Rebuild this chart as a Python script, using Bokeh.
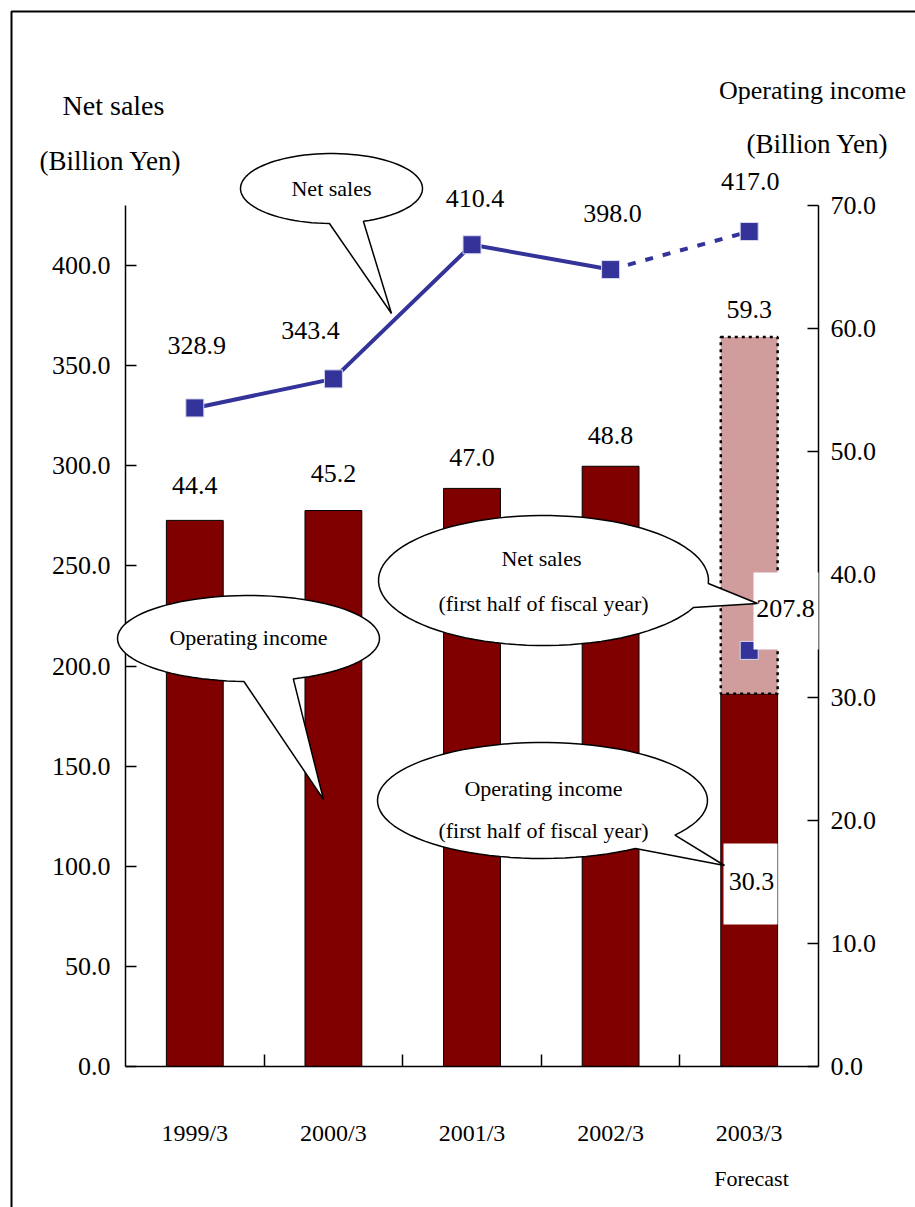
import math

from bokeh.core.properties import value
from bokeh.embed import file_html
from bokeh.models import (BoxAnnotation, ColumnDataSource, FixedTicker, Label,
                          LabelSet, LinearAxis, NumeralTickFormatter, Range1d)
from bokeh.plotting import figure
from bokeh.resources import INLINE

# ---- data -----------------------------------------------------------------
years = ["1999/3", "2000/3", "2001/3", "2002/3", "2003/3"]
net_sales = [328.9, 343.4, 410.4, 398.0, 417.0]          # billion yen, left axis
operating_income = [44.4, 45.2, 47.0, 48.8, 59.3]        # billion yen, right axis
first_half_net_sales = 207.8
first_half_operating_income = 30.3
sales_ticks = [0, 50, 100, 150, 200, 250, 300, 350, 400]
income_ticks = [0, 10, 20, 30, 40, 50, 60, 70]
sales_max, income_max = 430, 70

# ---- layout / styling -------------------------------------------------------
W, H = 915, 1207
AX_L, AX_R, AX_TOP, AX_BOT = 125, 818, 205, 1066   # pixel box of the axes
FONT = "Liberation Serif"
MAROON = "#800000"
ROSE = "#D09C9C"
BLUE = "#333399"

xs = list(range(len(years)))
last = xs[-1]

# The data ranges are stretched so that the plotting frame fills the whole
# page; the axes are pinned at fixed locations inside it.
x_lo, x_hi = -0.5, len(years) - 0.5
px_x = (AX_R - AX_L) / (x_hi - x_lo)
px_s = (AX_BOT - AX_TOP) / sales_max
px_i = (AX_BOT - AX_TOP) / income_max

p = figure(width=W, height=H,
           x_range=Range1d(x_lo - AX_L / px_x, x_hi + (W - AX_R) / px_x),
           y_range=Range1d(-(H - AX_BOT) / px_s, sales_max + AX_TOP / px_s),
           x_axis_type=None, y_axis_type=None,
           min_border=0, min_border_left=0, min_border_right=0,
           min_border_top=0, min_border_bottom=0,
           output_backend="svg", toolbar_location=None)
p.outline_line_color = None
p.background_fill_color = "white"
p.border_fill_color = "white"

p.extra_y_ranges = {"oi": Range1d(-(H - AX_BOT) / px_i, income_max + AX_TOP / px_i),
                    "px": Range1d(H, 0)}
p.extra_x_ranges = {"px": Range1d(0, W)}

# ---- axes -------------------------------------------------------------------
xaxis = LinearAxis(
    fixed_location=0, bounds=(x_lo, x_hi),
    ticker=FixedTicker(ticks=xs, minor_ticks=[i + 0.5 for i in xs[:-1]]),
    major_label_overrides={i: y for i, y in zip(xs, years)},
    major_tick_in=0, major_tick_out=0,
    minor_tick_in=12, minor_tick_out=0,
    minor_tick_line_color="black", minor_tick_line_width=1.5,
    axis_line_color="black", axis_line_width=1.5,
    major_label_standoff=53,
    major_label_text_font=FONT, major_label_text_font_size="24px",
    major_label_text_color="black")
p.add_layout(xaxis, "below")

common_y = dict(major_tick_in=11, major_tick_out=0, minor_tick_in=0, minor_tick_out=0,
                major_tick_line_color="black", major_tick_line_width=1.5,
                axis_line_color="black", axis_line_width=1.5,
                formatter=NumeralTickFormatter(format="0.0"),
                major_label_text_font=FONT, major_label_text_font_size="26px",
                major_label_text_color="black")
p.add_layout(LinearAxis(fixed_location=x_lo, bounds=(0, sales_max),
                        ticker=FixedTicker(ticks=sales_ticks),
                        major_label_standoff=15, **common_y), "left")
p.add_layout(LinearAxis(fixed_location=x_hi, bounds=(0, income_max), y_range_name="oi",
                        ticker=FixedTicker(ticks=income_ticks),
                        major_label_standoff=12, **common_y), "right")

# ---- operating income bars --------------------------------------------------
BAR_W = 0.41
p.vbar(x=xs[:-1], top=operating_income[:-1], width=BAR_W, y_range_name="oi",
       fill_color=MAROON, line_color="black", line_width=1)
p.vbar(x=[last], bottom=[0], top=[first_half_operating_income], width=BAR_W,
       y_range_name="oi", fill_color=MAROON, line_color="black", line_width=1)
p.vbar(x=[last], bottom=[first_half_operating_income], top=[operating_income[-1]],
       width=BAR_W, y_range_name="oi", fill_color=ROSE,
       line_color="black", line_width=2.5, line_dash="3 4")

# ---- net sales line ---------------------------------------------------------
p.line(xs[:-1], net_sales[:-1], line_color=BLUE, line_width=4)
p.line(xs[-2:], net_sales[-2:], line_color=BLUE, line_width=4, line_dash="8 10")
p.scatter(xs, net_sales, marker="square", size=18, fill_color=BLUE,
          line_color="#d8d8f0", line_width=1)
p.scatter([last], [first_half_net_sales], marker="square", size=18,
          fill_color=BLUE, line_color="#d8d8f0", line_width=1)

# ---- value labels -----------------------------------------------------------
ns_src = ColumnDataSource(dict(
    x=xs, y=net_sales, text=[f"{v:.1f}" for v in net_sales],
    dx=[2, -23, 3, 2, 1], dy=[62, 48, 46, 56, 50]))
p.add_layout(LabelSet(x="x", y="y", text="text", source=ns_src,
                      x_offset="dx", y_offset="dy",
                      text_align="center", text_baseline="middle",
                      text_font=value(FONT), text_font_size=value("26px"),
                      text_color="black"))

oi_src = ColumnDataSource(dict(
    x=xs, y=operating_income, text=[f"{v:.1f}" for v in operating_income],
    dy=[35, 37, 31, 31, 28]))
p.add_layout(LabelSet(x="x", y="y", text="text", source=oi_src, y_range_name="oi",
                      y_offset="dy", text_align="center", text_baseline="middle",
                      text_font=value(FONT), text_font_size=value("26px"),
                      text_color="black"))

# white boxes behind the first-half figures
p.add_layout(BoxAnnotation(left=753, right=818, top=572, bottom=649,
                           x_range_name="px", y_range_name="px",
                           fill_color="white", fill_alpha=1, line_color=None))
p.add_layout(BoxAnnotation(left=723, right=777, top=843, bottom=924,
                           x_range_name="px", y_range_name="px",
                           fill_color="white", fill_alpha=1, line_color=None))


# ---- speech-bubble callouts -------------------------------------------------
def bubble(cx, cy, rx, ry, a0, a1, tip, n=90):
    """Ellipse outline with a pointed tail between angles a0..a1 (degrees)."""
    start = math.radians(a1)
    end = math.radians(a0 + 360)
    bx, by = [], []
    for k in range(n + 1):
        t = start + (end - start) * k / n
        bx.append(cx + rx * math.cos(t))
        by.append(cy + ry * math.sin(t))
    bx.append(tip[0])
    by.append(tip[1])
    return bx, by


callouts = [
    bubble(331, 188, 91, 35, 69.5, 91.3, (391, 313)),
    bubble(248, 638, 131, 43, 70, 92, (323, 799)),
    bubble(543, 580, 165, 65, 2.6, 24.5, (757, 603)),
    bubble(542, 800, 165, 58, 36.6, 55.7, (724, 865)),
]
for bx, by in callouts:
    p.patch(bx, by, x_range_name="px", y_range_name="px", level="overlay",
            fill_color="white", line_color="black", line_width=1.5)

bubble_text = dict(
    x=[331, 248, 541, 543, 543, 543],
    y=[188, 637, 558, 603, 788, 830],
    text=["Net sales", "Operating income", "Net sales", "(first half of fiscal year)",
          "Operating income", "(first half of fiscal year)"])
p.text(x="x", y="y", text="text", source=ColumnDataSource(bubble_text),
       x_range_name="px", y_range_name="px", level="overlay",
       text_align="center", text_baseline="middle",
       text_font=value(FONT), text_font_size=value("22px"), text_color="black")


def label(x, y, s, size):
    p.add_layout(Label(x=x, y=y, text=s, x_range_name="px", y_range_name="px",
                       text_align="center", text_baseline="middle",
                       text_font=FONT, text_font_size=size, text_color="black"))


label(785, 608, f"{first_half_net_sales:.1f}", "26px")
label(751, 881, f"{first_half_operating_income:.1f}", "26px")

# axis titles and footnote
label(113, 105, "Net sales", "28px")
label(110, 160, "(Billion Yen)", "27px")
label(812, 90, "Operating income", "26px")
label(817, 143, "(Billion Yen)", "27px")
label(751, 1178, "Forecast", "22px")

# outer frame (left and top edges fall inside the page)
p.line([11, 11, W + 5], [H + 5, 11, 11], x_range_name="px", y_range_name="px",
       line_color="black", line_width=2)

open("out.html", "w").write(file_html(p, INLINE))
